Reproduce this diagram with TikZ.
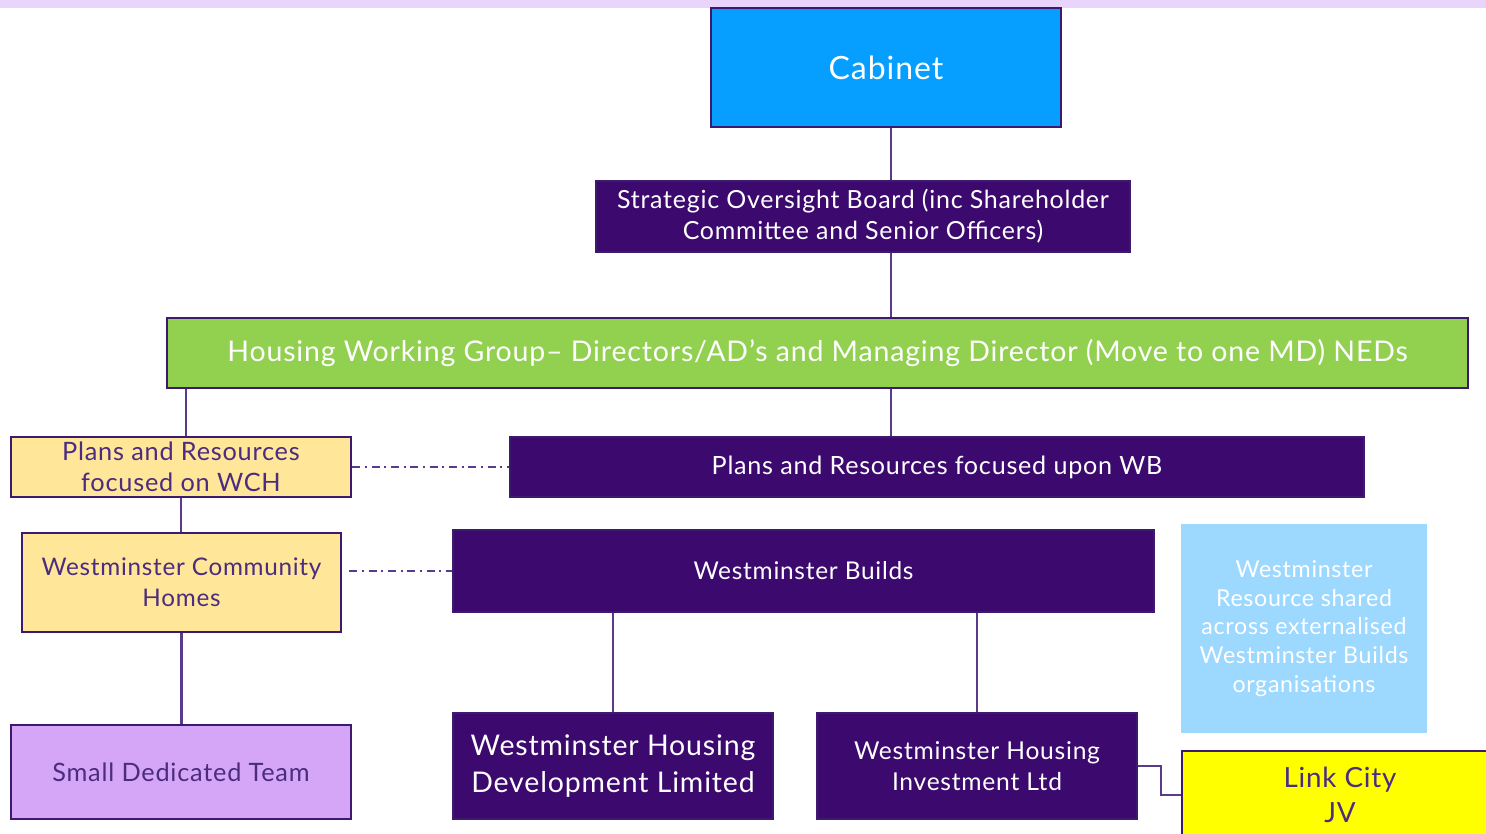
\documentclass[tikz,border=0pt]{standalone}
\usepackage{fontspec}
\setmainfont{Lato}[LetterSpace=3]
\usepackage{tikz}
\definecolor{bandpurple}{HTML}{E9D5FB}
\definecolor{darkpurple}{HTML}{3C0A6E}
\definecolor{edgepurple}{HTML}{3D1A6E}
\definecolor{linepurple}{HTML}{5A3A8A}
\definecolor{textpurple}{HTML}{4B2C7F}
\definecolor{cabinetblue}{HTML}{069FFF}
\definecolor{groupgreen}{HTML}{92D050}
\definecolor{paleyellow}{HTML}{FFE699}
\definecolor{lavender}{HTML}{D5A6F8}
\definecolor{skyblue}{HTML}{9DD8FF}
\definecolor{brightyellow}{HTML}{FFFF00}

\tikzset{
  box/.style={draw=edgepurple, line width=0.6pt, inner sep=0pt, align=center},
  darkbox/.style={box, fill=darkpurple, text=white},
  yellowbox/.style={box, fill=paleyellow, text=textpurple},
  link/.style={draw=linepurple, line width=0.6pt},
  dashlink/.style={link, dash pattern=on 2.3pt off 1.3pt on 0.6pt off 1.3pt}
}

\begin{document}
\begin{tikzpicture}[x=0.01cm, y=-0.01cm]
  % Page frame and top band
  \useasboundingbox (0,0) rectangle (1486,833);
  \clip (0,0) rectangle (1486,833);
  \fill[bandpurple] (0,0) rectangle (1486,8);

  % Top of the chart
  \node[box, fill=cabinetblue, text=white, minimum width=3.5cm, minimum height=1.19cm,
        font=\fontsize{9.1}{11}\selectfont] (cabinet) at (886,67.5) {Cabinet};
  \node[darkbox, minimum width=5.34cm, minimum height=0.71cm,
        font=\fontsize{7.1}{8.8}\selectfont] (sob) at (863,216.5)
        {Strategic Oversight Board (inc Shareholder\\Committee and Senior Officers)};
  \node[box, fill=groupgreen, text=white, minimum width=13.01cm, minimum height=0.7cm,
        font=\fontsize{8.1}{10}\selectfont] (hwg) at (817.5,353)
        {Housing Working Group-- Directors/AD’s and Managing Director (Move to one MD) NEDs};

  % Plans and resources
  \node[yellowbox, minimum width=3.4cm, minimum height=0.6cm,
        font=\fontsize{7.2}{8.8}\selectfont] (prwch) at (181,467)
        {Plans and Resources\\focused on WCH};
  \node[darkbox, minimum width=8.54cm, minimum height=0.6cm,
        font=\fontsize{7.15}{8.8}\selectfont] (prwb) at (937,467)
        {Plans and Resources focused upon WB};

  % Middle row
  \node[yellowbox, minimum width=3.19cm, minimum height=0.99cm,
        font=\fontsize{6.9}{8.8}\selectfont] (wch) at (181.5,582.5)
        {Westminster Community\\Homes};
  \node[darkbox, minimum width=7.01cm, minimum height=0.82cm,
        font=\fontsize{6.95}{8.8}\selectfont] (wb) at (803.5,571) {Westminster Builds};
  \node[fill=skyblue, text=white, inner sep=0pt, align=center,
        minimum width=2.46cm, minimum height=2.09cm,
        font=\fontsize{6.6}{8.2}\selectfont] (shared) at (1304,628.5)
        {Westminster\\Resource shared\\across externalised\\Westminster Builds\\organisations};

  % Bottom row
  \node[box, fill=lavender, text=textpurple, minimum width=3.4cm, minimum height=0.94cm,
        font=\fontsize{7.2}{8.8}\selectfont] (sdt) at (181,772) {Small Dedicated Team};
  \node[darkbox, minimum width=3.2cm, minimum height=1.06cm,
        font=\fontsize{8.1}{10.5}\selectfont] (whdl) at (613,766)
        {Westminster Housing\\Development Limited};
  \node[darkbox, minimum width=3.2cm, minimum height=1.06cm,
        font=\fontsize{7.0}{9}\selectfont] (whil) at (977,766)
        {Westminster Housing\\Investment Ltd};
  \node[box, fill=brightyellow, text=textpurple, minimum width=3.16cm, minimum height=0.88cm,
        font=\fontsize{7.9}{10}\selectfont] (linkcity) at (1340,795) {Link City\\JV};

  % Connectors
  \coordinate (spine) at (891,0);
  \draw[link] (spine |- cabinet.south) -- (spine |- sob.north);
  \draw[link] (spine |- sob.south) -- (spine |- hwg.north);
  \draw[link] (spine |- hwg.south) -- (spine |- prwb.north);
  \draw[link] ([xshift=0.05cm]prwch.north |- hwg.south) -- ([xshift=0.05cm]prwch.north);
  \draw[link] (prwch.south) -- (prwch.south |- wch.north);
  \draw[link] (wch.south) -- (wch.south |- sdt.north);
  \draw[link] (whdl.north |- wb.south) -- (whdl.north);
  \draw[link] (whil.north |- wb.south) -- (whil.north);
  \draw[link] (whil.east) -- ++(23,0) |- (linkcity.west);

  % Dotted links between the two sides
  \draw[dashlink] (prwch.east) -- (prwb.west);
  \draw[dashlink] ([xshift=0.07cm]wch.east |- wb.west) -- (wb.west);
\end{tikzpicture}
\end{document}
